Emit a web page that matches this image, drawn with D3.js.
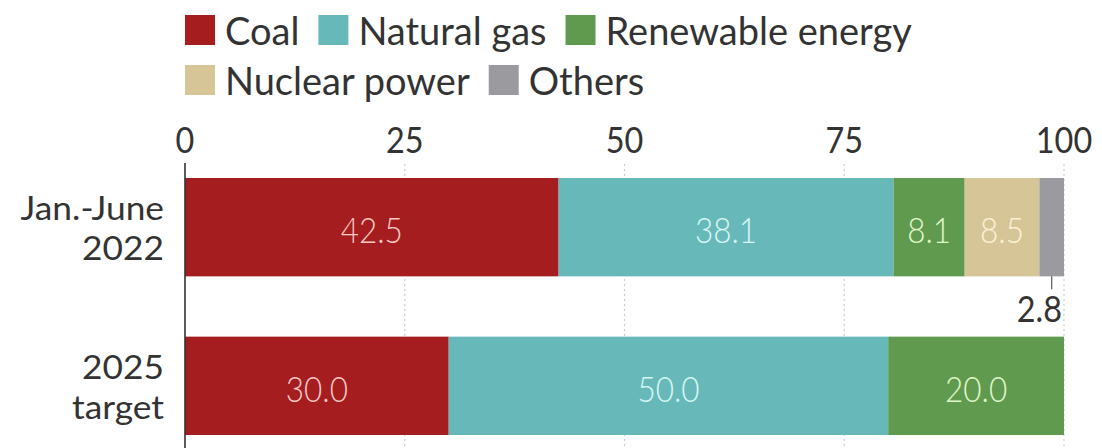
<!DOCTYPE html>
<html>
<head>
<meta charset="utf-8">
<script src="https://cdn.jsdelivr.net/npm/d3@7"></script>
<style>
  body { margin: 0; background: #fff; }
  svg { display: block; font-family: Lato, "Open Sans", sans-serif; }
</style>
</head>
<body>
<svg width="1102" height="448"></svg>
<script>
  const categories = ['Jan.-June 2022', '2025 target'];
  const categoryLines = [['Jan.-June', '2022'], ['2025', 'target']];
  const seriesNames = ['Coal', 'Natural gas', 'Renewable energy', 'Nuclear power', 'Others'];
  const values2022 = [42.5, 38.1, 8.1, 8.5, 2.8];
  const values2025 = [30.0, 50.0, 20.0, 0, 0];
  const tickValues = [0, 25, 50, 75, 100];

  const colors = ['#a51d1f', '#67b9b9', '#5f9a4f', '#d6c596', '#9b9b9f'];
  const labelColors = ['#f5c9c6', '#d9f6f3', '#e2f6cc', '#fbf3d6', '#333'];

  const svg = d3.select('svg');
  const squeeze = 0.9;

  const xScale = d3.scaleLinear().domain([0, 100]).range([185, 1064]);
  const yScale = d3.scaleBand().domain(categories).range([178, 435]).paddingInner(0.38);

  const rows = [values2022, values2025].map((vals, i) => {
    let acc = 0;
    return vals.map((v, j) => {
      const d = { cat: categories[i], series: j, value: v, x0: acc, x1: acc + v };
      acc += v;
      return d;
    }).filter(d => d.value > 0);
  });
  const segments = rows.flat();

  // gridlines
  svg.append('g')
    .selectAll('line')
    .data(tickValues.slice(1))
    .join('line')
      .attr('x1', d => xScale(d)).attr('x2', d => xScale(d))
      .attr('y1', 164).attr('y2', 448)
      .attr('stroke', '#cdcdcd')
      .attr('stroke-width', 1.2)
      .attr('stroke-dasharray', '2,3');

  // tick labels
  svg.append('g')
    .selectAll('text')
    .data(tickValues)
    .join('text')
      .attr('transform', d => `translate(${xScale(d)},153) scale(${squeeze},1)`)
      .attr('text-anchor', 'middle')
      .attr('font-size', 36)
      .attr('fill', '#333')
      .text(d => d);

  // bars
  svg.append('g')
    .selectAll('rect')
    .data(segments)
    .join('rect')
      .attr('x', d => xScale(d.x0))
      .attr('y', d => yScale(d.cat))
      .attr('width', d => xScale(d.x1) - xScale(d.x0))
      .attr('height', yScale.bandwidth())
      .attr('fill', d => colors[d.series]);

  // axis line
  svg.append('line')
    .attr('x1', xScale(0)).attr('x2', xScale(0))
    .attr('y1', 163).attr('y2', 448)
    .attr('stroke', '#333')
    .attr('stroke-width', 1.6);

  // value labels inside bars
  svg.append('g')
    .selectAll('text')
    .data(segments.filter(d => d.value >= 5))
    .join('text')
      .attr('transform', d => `translate(${xScale((d.x0 + d.x1) / 2)},${yScale(d.cat) + yScale.bandwidth() / 2 + 16}) scale(${squeeze},1)`)
      .attr('text-anchor', 'middle')
      .attr('font-size', 35)
      .attr('font-weight', 300)
      .attr('fill', d => labelColors[d.series])
      .text(d => d.value.toFixed(1));

  // small segment label outside with leader line
  const small = segments.filter(d => d.value < 5);
  svg.append('g')
    .selectAll('line')
    .data(small)
    .join('line')
      .attr('x1', d => xScale((d.x0 + d.x1) / 2)).attr('x2', d => xScale((d.x0 + d.x1) / 2))
      .attr('y1', d => yScale(d.cat) + yScale.bandwidth())
      .attr('y2', d => yScale(d.cat) + yScale.bandwidth() + 13)
      .attr('stroke', '#555')
      .attr('stroke-width', 1.2);
  svg.append('g')
    .selectAll('text')
    .data(small)
    .join('text')
      .attr('transform', d => `translate(${xScale(d.x1) - 2},${yScale(d.cat) + yScale.bandwidth() + 46}) scale(${squeeze},1)`)
      .attr('text-anchor', 'end')
      .attr('font-size', 36)
      .attr('fill', '#333')
      .text(d => d.value.toFixed(1));

  // category labels, two lines each
  svg.append('g')
    .selectAll('text')
    .data(categories)
    .join('text')
      .attr('transform', c => `translate(164,${yScale(c) + yScale.bandwidth() / 2 - 7}) scale(1.07,1)`)
      .attr('text-anchor', 'end')
      .attr('font-size', 33)
      .attr('fill', '#333')
      .selectAll('tspan')
      .data((c, i) => categoryLines[i])
      .join('tspan')
        .attr('x', 0)
        .attr('dy', (t, k) => k === 0 ? 0 : 40)
        .text(t => t);

  // legend
  const legendRows = [[0, 1, 2], [3, 4]];
  const legend = svg.append('g');
  legendRows.forEach((row, r) => {
    let x = 185;
    const y = 15 + r * 50;
    row.forEach(j => {
      legend.append('rect')
        .attr('x', x).attr('y', y)
        .attr('width', 30).attr('height', 30)
        .attr('fill', colors[j]);
      const t = legend.append('text')
        .attr('x', x + 40)
        .attr('y', y + 30)
        .attr('font-size', 38)
        .attr('fill', '#333')
        .text(seriesNames[j]);
      x += 40 + t.node().getComputedTextLength() + 19;
    });
  });
</script>
</body>
</html>
